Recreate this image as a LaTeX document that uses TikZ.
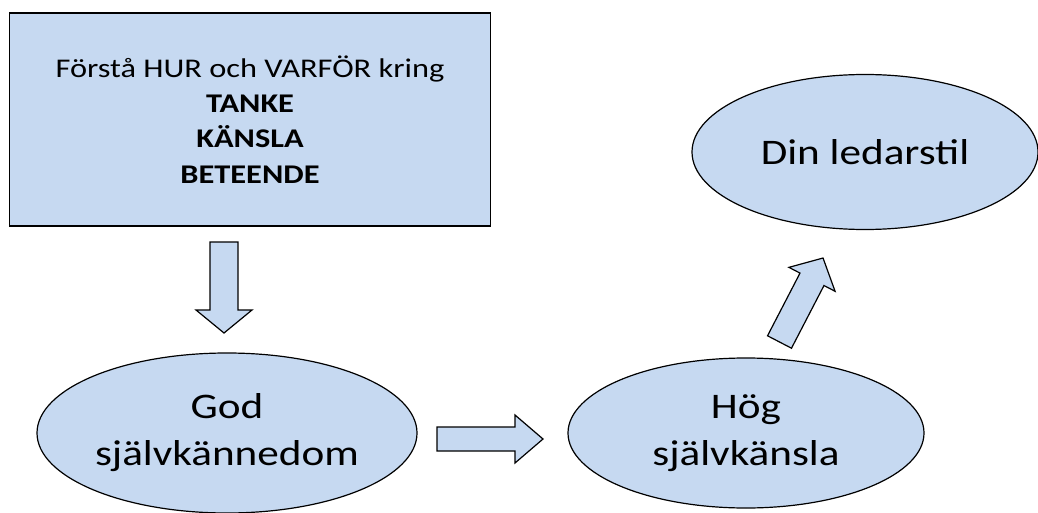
\documentclass[tikz,border=0pt]{standalone}
\usepackage{fontspec}
\setmainfont{Carlito}[FakeStretch=1.2]
\usetikzlibrary{shapes.geometric}
\definecolor{paleBlue}{HTML}{C6D9F1}

\begin{document}
\begin{tikzpicture}
[x=1pt,y=-1pt,
  every node/.style={draw,line width=1.2pt,fill=paleBlue,inner sep=0pt},%
  textBox/.style={rectangle,minimum width=481pt,minimum height=213pt,
    align=center,font=\fontsize{27}{35.3}\selectfont},
  bubble/.style={ellipse,align=center,font=\fontsize{36}{47}\selectfont},
  blockArrow/.style={draw,line width=1.2pt,fill=paleBlue,line join=miter}]
\useasboundingbox (0,0) rectangle (1038,513);
\node(insight)[textBox] at (250,119.5)
  {Förstå HUR och VARFÖR kring\\ \textbf{TANKE}\\ \textbf{KÄNSLA}\\ \textbf{BETEENDE}};
\node(selfKnowledge)[bubble,minimum width=380pt,minimum height=160pt]
  at (227,433) {God\\självkännedom};
\node(selfEsteem)[bubble,minimum width=356pt,minimum height=150pt]
  at (746,433) {Hög\\självkänsla};
\node(leaderStyle)[bubble,minimum width=346pt,minimum height=155pt]
  at (865,152) {Din ledarstil};
% block arrows: tail point, turn, length, head length, half shaft, half head
\foreach \arrowName/\px/\py/\turn/\len/\headLen/\shaft/\head in {
  downArrow/224/242/-90/91/23/14/28,
  rightArrow/437/439/0/106/28/12/24,
  upArrow/779.5/342/62.6/94.6/24/13.5/26}
{
  \begin{scope}[shift={(\px,\py)},rotate=\turn]
    \coordinate(\arrowName) at (0,0);
    \draw[blockArrow] (\arrowName) ++(0,-\shaft) -- (\len-\headLen,-\shaft)
      -- (\len-\headLen,-\head) -- (\len,0) -- (\len-\headLen,\head)
      -- (\len-\headLen,\shaft) -- (0,\shaft) -- cycle;
  \end{scope}
}
\end{tikzpicture}
\end{document}
